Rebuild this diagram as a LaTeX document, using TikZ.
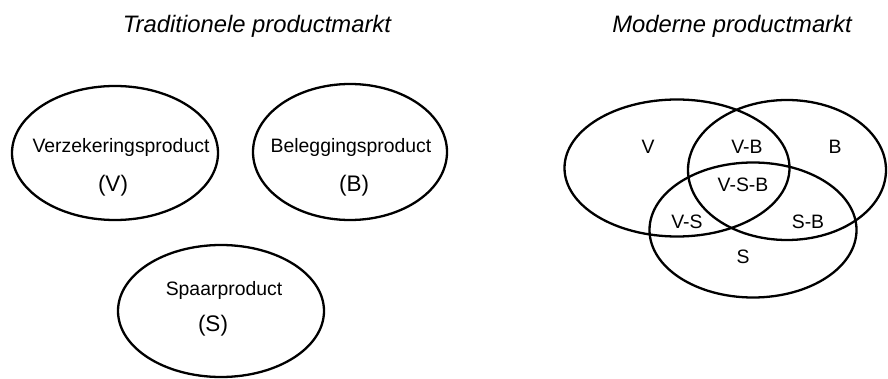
\documentclass[tikz,border=0pt]{standalone}
\usepackage{fontspec}
\setmainfont{Liberation Sans}
\usetikzlibrary{shapes.geometric}
\begin{document}
\begin{tikzpicture}[x=1pt,y=-1pt,
  oval/.style={draw, ellipse, line width=2.3pt, inner sep=0pt},
  lbl/.style={anchor=base, inner sep=0pt, font=\fontsize{19.4}{22}\selectfont},
  big/.style={anchor=base, inner sep=0pt, font=\fontsize{22.5}{26}\selectfont},
  ttl/.style={anchor=base, inner sep=0pt, font=\fontsize{23.8}{28}\selectfont\itshape}]
\useasboundingbox (0,0) rectangle (888,379);
% titles
\node[ttl] (t1) at (257,33) {Traditionele productmarkt};
\node[ttl] (t2) at (732,33) {Moderne productmarkt};
% traditional
\node[oval, minimum width=206pt, minimum height=134pt] (eV) at (115,153) {};
\node[oval, minimum width=194pt, minimum height=136pt] (eB) at (350,152) {};
\node[oval, minimum width=206pt, minimum height=132pt] (eS) at (221,311) {};
\node[lbl] (tV1) at (121,153) {Verzekeringsproduct};
\node[big] (tV2) at (113,192) {(V)};
\node[lbl] (tB1) at (351,153) {Beleggingsproduct};
\node[big] (tB2) at (354,192) {(B)};
\node[lbl] (tS1) at (224,295) {Spaarproduct};
\node[big] (tS2) at (213,331) {(S)};
% modern
\node[oval, minimum width=225pt, minimum height=137pt] (mV) at (677,168) {};
\node[oval, minimum width=198pt, minimum height=140pt] (mB) at (787,170) {};
\node[oval, minimum width=207pt, minimum height=135pt] (mS) at (753,230) {};
\node[lbl] (lV) at (648,154) {V};
\node[lbl] (lVB) at (747,154) {V-B};
\node[lbl] (lB) at (835,154) {B};
\node[lbl] (lVSB) at (743,192) {V-S-B};
\node[lbl] (lVS) at (687,229) {V-S};
\node[lbl] (lSB) at (808,229) {S-B};
\node[lbl] (lS) at (743,263) {S};
\end{tikzpicture}
\end{document}
